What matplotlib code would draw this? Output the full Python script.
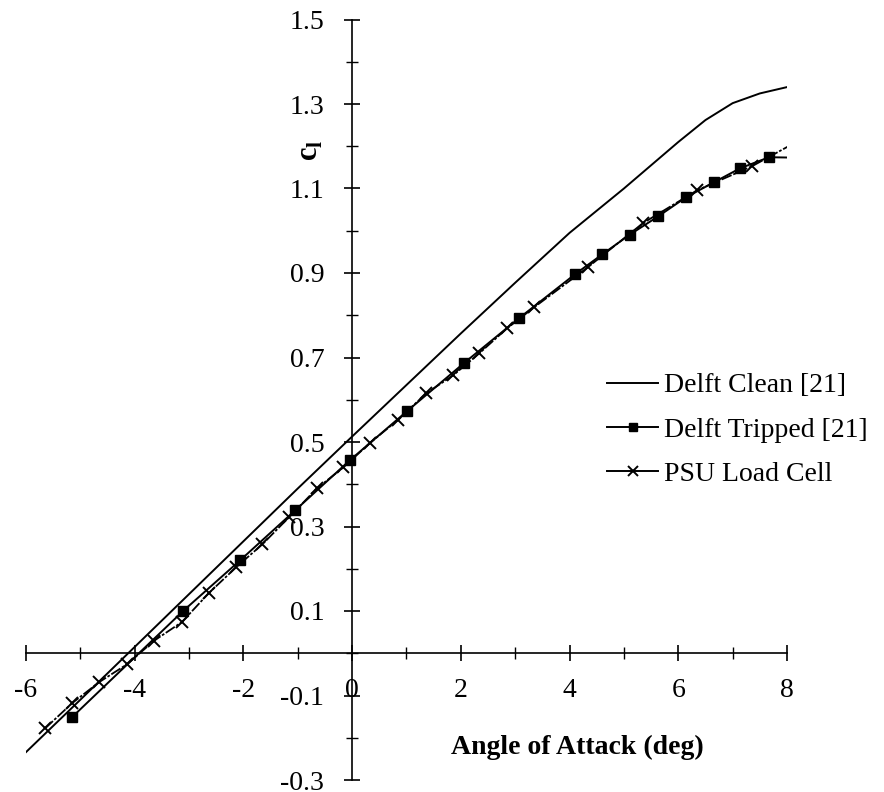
import numpy as np
import matplotlib
matplotlib.use("Agg")
import matplotlib.pyplot as plt
from matplotlib.lines import Line2D

# ===== Fuentes =====
plt.rcParams['font.family'] = ['Liberation Serif', 'DejaVu Serif']
plt.rcParams['mathtext.fontset'] = 'custom'
plt.rcParams['mathtext.rm'] = 'Liberation Serif'
plt.rcParams['mathtext.bf'] = 'Liberation Serif:bold'

# ===== Datos =====
clean_alpha = [-6, -5, -4, -3, -2, -1, 0, 1, 2, 3, 4, 5, 5.5, 6, 6.5, 7, 7.5, 8]
clean_cl = [-0.234, -0.11, 0.015, 0.14, 0.265, 0.39, 0.513, 0.635, 0.757,
            0.877, 0.995, 1.10, 1.155, 1.21, 1.262, 1.302, 1.325, 1.340]

tripped_alpha = [-5.15, -3.11, -2.06, -1.05, -0.04, 1.01, 2.05, 3.07, 4.10,
                 4.60, 5.11, 5.63, 6.14, 6.66, 7.14, 7.67, 8.69]
tripped_cl = [-0.151, 0.100, 0.220, 0.338, 0.457, 0.573, 0.686, 0.793, 0.897,
              0.944, 0.991, 1.034, 1.079, 1.115, 1.148, 1.174, 1.172]

psu_alpha = [-5.65, -5.15, -4.65, -4.14, -3.64, -3.13, -2.64, -2.13, -1.65,
             -1.16, -0.65, -0.16, 0.33, 0.85, 1.36, 1.86, 2.34, 2.85, 3.35,
             4.34, 5.35, 6.35, 7.36, 8.34]
psu_cl = [-0.178, -0.118, -0.068, -0.026, 0.030, 0.074, 0.142, 0.204, 0.258,
          0.322, 0.390, 0.440, 0.498, 0.553, 0.615, 0.658, 0.710, 0.769, 0.819,
          0.914, 1.018, 1.096, 1.153, 1.222]

labels = ['Delft Clean [21]', 'Delft Tripped [21]', 'PSU Load Cell']

xticks_major = [-6, -4, -2, 0, 2, 4, 6, 8]
xticks_minor = [-5, -3, -1, 1, 3, 5, 7]
yticks_major = [-0.3, -0.1, 0.1, 0.3, 0.5, 0.7, 0.9, 1.1, 1.3, 1.5]
yticks_minor = [-0.2, 0.0, 0.2, 0.4, 0.6, 0.8, 1.0, 1.2, 1.4]

# ===== Figura =====
fig = plt.figure(figsize=(8.84, 7.92), dpi=100)
ax = fig.add_axes([26 / 884, 12 / 792, 761 / 884, 760.5 / 792])

ax.plot(clean_alpha, clean_cl, color='black', lw=1.4)
ax.plot(tripped_alpha, tripped_cl, color='black', lw=1.4, marker='s',
        markersize=7)
ax.plot(psu_alpha, psu_cl, color='black', lw=1.3, marker='x',
        markersize=8.5, markeredgewidth=1.4, dashes=(6, 1, 1.5, 1))

ax.set_xlim(-6, 8)
ax.set_ylim(-0.3, 1.5)

# ejes cruzando en el origen
for s in ['top', 'right']:
    ax.spines[s].set_visible(False)
ax.spines['left'].set_position(('data', 0))
ax.spines['bottom'].set_position(('data', 0))
ax.spines['left'].set_linewidth(1.2)
ax.spines['bottom'].set_linewidth(1.2)

ax.set_xticks(xticks_major)
ax.set_xticks(xticks_minor, minor=True)
ax.set_yticks(yticks_major)
ax.set_yticks(yticks_minor, minor=True)
ax.set_xticklabels([str(v) for v in xticks_major])
ax.set_yticklabels([f"{v:.1f}" for v in yticks_major])

ax.tick_params(which='major', direction='inout', length=12, width=1.2,
               labelsize=20, color='black')
ax.tick_params(which='minor', direction='inout', length=9, width=1.0)
ax.tick_params(axis='y', which='major', pad=14)
ax.tick_params(axis='x', which='major', pad=12)

# ===== Etiquetas =====
ax.text(-0.77, 1.19, r'$\mathbf{c}_\mathbf{l}$', rotation=90, fontsize=22,
        ha='center', va='center')
ax.text(4.14, -0.222, 'Angle of Attack (deg)', fontsize=20, fontweight='bold',
        ha='center', va='center')

# ===== Leyenda =====
handles = [
    Line2D([], [], color='black', lw=1.4),
    Line2D([], [], color='black', lw=1.4, marker='s', markersize=6),
    Line2D([], [], color='black', lw=1.4, marker='x', markersize=6.5,
           markeredgewidth=1.4),
]
leg = ax.legend(handles, labels, loc='center left',
                bbox_to_anchor=(607 / 884, 362 / 792),
                bbox_transform=fig.transFigure, frameon=False, fontsize=20,
                borderpad=0, borderaxespad=0, handlelength=1.84,
                handletextpad=0.2, labelspacing=0.68)

fig.savefig('out.png', dpi=100)
